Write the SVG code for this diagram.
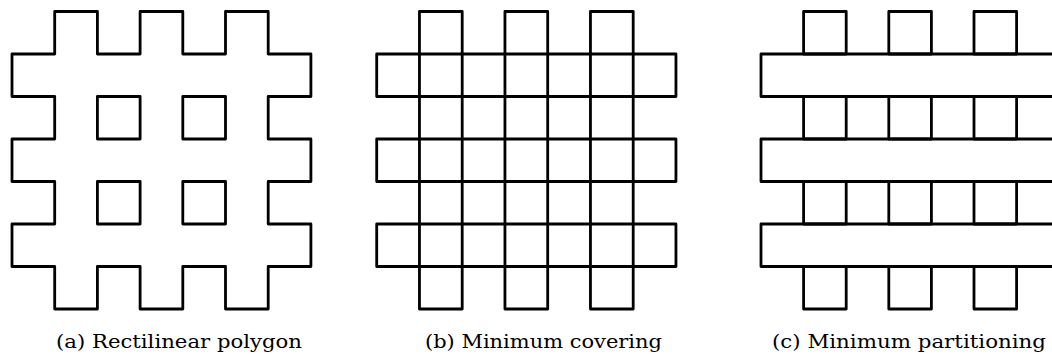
<svg xmlns="http://www.w3.org/2000/svg" width="1052" height="356" viewBox="0 0 1052 356">
<style>
.ln{fill:none;stroke:#000;stroke-width:2.8;stroke-linejoin:round;stroke-linecap:round}
.cap{font-family:"DejaVu Serif","Liberation Serif",serif;font-size:19px;fill:#000}
</style>
<rect width="1052" height="356" fill="#fff"/>
<g id="panel-a">
<path class="ln" d="M54.7,11.5 H97.4 V54 H140.1 V11.5 H182.8 V54 H225.5 V11.5 H268.2 V54 H310.9 V96.5 H268.2 V139 H310.9 V181.5 H268.2 V224 H310.9 V266.5 H268.2 V309 H225.5 V266.5 H182.8 V309 H140.1 V266.5 H97.4 V309 H54.7 V266.5 H12 V224 H54.7 V181.5 H12 V139 H54.7 V96.5 H12 V54 H54.7 Z"/>
<rect class="ln" x="97.4" y="96.5" width="42.7" height="42.5"/>
<rect class="ln" x="182.8" y="96.5" width="42.7" height="42.5"/>
<rect class="ln" x="97.4" y="181.5" width="42.7" height="42.5"/>
<rect class="ln" x="182.8" y="181.5" width="42.7" height="42.5"/>
<text class="cap" x="56" y="348" textLength="246" lengthAdjust="spacingAndGlyphs">(a) Rectilinear polygon</text>
</g>
<g id="panel-b">
<rect class="ln" x="376.7" y="54" width="299.25" height="42.5"/>
<rect class="ln" x="376.7" y="139" width="299.25" height="42.5"/>
<rect class="ln" x="376.7" y="224" width="299.25" height="42.5"/>
<rect class="ln" x="419.45" y="11.5" width="42.75" height="297.5"/>
<rect class="ln" x="504.95" y="11.5" width="42.75" height="297.5"/>
<rect class="ln" x="590.45" y="11.5" width="42.75" height="297.5"/>
<text class="cap" x="425" y="348" textLength="237" lengthAdjust="spacingAndGlyphs">(b) Minimum covering</text>
</g>
<g id="panel-c">
<rect class="ln" x="761" y="54" width="298.2" height="42.5"/>
<rect class="ln" x="761" y="139" width="298.2" height="42.5"/>
<rect class="ln" x="761" y="224" width="298.2" height="42.5"/>
<rect class="ln" x="803.6" y="11.5" width="42.6" height="42.5"/>
<rect class="ln" x="888.8" y="11.5" width="42.6" height="42.5"/>
<rect class="ln" x="974" y="11.5" width="42.6" height="42.5"/>
<rect class="ln" x="803.6" y="96.5" width="42.6" height="42.5"/>
<rect class="ln" x="888.8" y="96.5" width="42.6" height="42.5"/>
<rect class="ln" x="974" y="96.5" width="42.6" height="42.5"/>
<rect class="ln" x="803.6" y="181.5" width="42.6" height="42.5"/>
<rect class="ln" x="888.8" y="181.5" width="42.6" height="42.5"/>
<rect class="ln" x="974" y="181.5" width="42.6" height="42.5"/>
<rect class="ln" x="803.6" y="266.5" width="42.6" height="42.5"/>
<rect class="ln" x="888.8" y="266.5" width="42.6" height="42.5"/>
<rect class="ln" x="974" y="266.5" width="42.6" height="42.5"/>
<text class="cap" x="772" y="348" textLength="274" lengthAdjust="spacingAndGlyphs">(c) Minimum partitioning</text>
</g>
</svg>
